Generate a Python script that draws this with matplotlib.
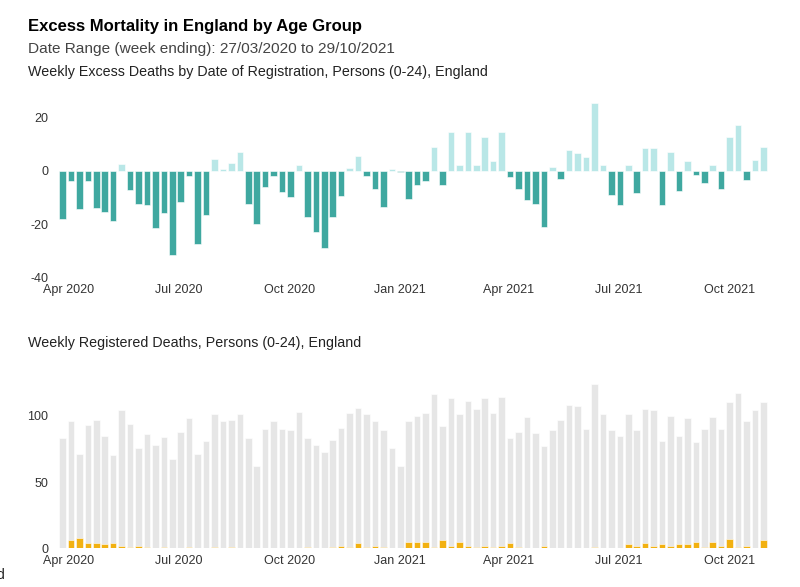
import matplotlib
matplotlib.use("Agg")
import matplotlib.pyplot as plt
import matplotlib.dates as mdates
import pandas as pd
import numpy as np

plt.rcParams['font.family'] = ['Liberation Sans', 'DejaVu Sans']
plt.rcParams['axes.unicode_minus'] = False

start_date = "2020-03-27"
n_weeks = 84
week_ending = pd.date_range(start_date, periods=n_weeks, freq="7D")

excess_deaths = [
    -18, -4, -14.5, -4, -14, -15.5, -18.75, 2.5, -7.25, -12.5,
    -13, -21.5, -16, -31.5, -11.75, -2, -27.5, -16.5, 4.5, 0.5,
    3, 7, -12.5, -20, -6.25, -2, -8, -10, 2, -17.5,
    -23, -29, -17.5, -9.5, 1, 5.5, -2, -7, -13.5, 0.5,
    -0.5, -10.5, -5.25, -4, 8.75, -5.5, 14.5, 2, 14.5, 2,
    12.5, 3.5, 14.5, -2.5, -6.75, -11, -12.5, -21.25, 1.25, -3.25,
    7.75, 6.5, 5, 25.25, 2, -9, -13, 2, -8.5, 8.5,
    8.5, -13, 7, -7.5, 3.5, -1.5, -4.75, 2.25, -6.75, 12.5,
    17, -3.5, 4, 9,
]

registered_deaths = [
    83, 96, 71, 93, 97, 85, 70, 104, 94, 76,
    86, 78, 84, 67, 88, 98, 71, 81, 101, 96,
    97, 101, 83, 62, 90, 96, 90, 89, 103, 83,
    78, 73, 82, 91, 102, 106, 101, 96, 89, 76,
    62, 96, 100, 102, 116, 92, 113, 101, 111, 105,
    113, 102, 114, 83, 88, 99, 87, 77, 89, 97,
    108, 107, 90, 124, 101, 89, 85, 101, 89, 105,
    104, 81, 100, 85, 98, 80, 90, 99, 90, 110,
    117, 96, 104, 110,
]

covid_deaths = [
    0, 6, 8, 4, 4, 3, 4, 2, 1, 2,
    1, 0, 1, 0, 0, 1, 0, 0, 1, 0,
    1, 0, 0, 0, 0, 0, 0, 0, 0, 1,
    0, 0, 1, 2, 1, 4, 1, 2, 1, 0,
    0, 5, 5, 5, 1, 6, 2, 5, 2, 1,
    2, 1, 2, 4, 1, 0, 0, 2, 0, 0,
    0, 0, 0, 1, 0, 0, 0, 3, 2, 4,
    2, 3, 2, 3, 3, 5, 1, 5, 2, 7,
    1, 2, 0, 6,
]

DARK_TEAL = "#3fa8a0"
LIGHT_TEAL = "#b9e7e7"
GREY = "#e6e6e6"
ORANGE = "#f2b111"
TICK_COLOR = "#333333"

fig = plt.figure(figsize=(8.0, 5.87), dpi=100)

left = 55 / 800
width = 715 / 800
ax1 = fig.add_axes([left, 0.5273, width, 0.8365 - 0.5273])
ax2 = fig.add_axes([left, 0.0659, width, 0.3596 - 0.0659])

x = mdates.date2num(week_ending)
bar_w = 5.4
xmin = x[0] - 6.2
xmax = x[-1] + 5.5

ex = np.array(excess_deaths, dtype=float)
colors = [DARK_TEAL if v < 0 else LIGHT_TEAL for v in ex]
ax1.bar(x, ex, width=bar_w, color=colors, edgecolor="white", linewidth=0.4)
ax1.set_ylim(-40, 28)
ax1.set_yticks([-40, -20, 0, 20])

ax2.bar(x, registered_deaths, width=bar_w, color=GREY, edgecolor="white", linewidth=0.4)
ax2.bar(x, covid_deaths, width=bar_w, color=ORANGE, edgecolor="white", linewidth=0.4)
ax2.set_ylim(0, 130)
ax2.set_yticks([0, 50, 100])

for ax in (ax1, ax2):
    ax.set_xlim(xmin, xmax)
    ax.xaxis.set_major_locator(mdates.MonthLocator(bymonth=[1, 4, 7, 10]))
    ax.xaxis.set_major_formatter(mdates.DateFormatter("%b %Y"))
    for s in ax.spines.values():
        s.set_visible(False)
    ax.tick_params(axis="both", length=0, labelsize=9, colors=TICK_COLOR)
    ax.tick_params(axis="y", pad=5)
    ax.tick_params(axis="x", pad=5)
    ax.set_facecolor("none")

def base(y):
    return (587 - y) / 587

fig.text(28 / 800, base(31), "Excess Mortality in England by Age Group",
         fontsize=12, fontweight="bold", color="black", va="baseline")
fig.text(28 / 800, base(53), "Date Range (week ending): 27/03/2020 to 29/10/2021",
         fontsize=11.1, color="#444444", va="baseline")
fig.text(28 / 800, base(76), "Weekly Excess Deaths by Date of Registration, Persons (0-24), England",
         fontsize=10.3, color="#222222", va="baseline")
fig.text(28 / 800, base(347), "Weekly Registered Deaths, Persons (0-24), England",
         fontsize=10.3, color="#222222", va="baseline")
fig.text(-4 / 800, base(579), "d", fontsize=10, color="#222222", va="baseline")

fig.savefig("out.png", dpi=100)
